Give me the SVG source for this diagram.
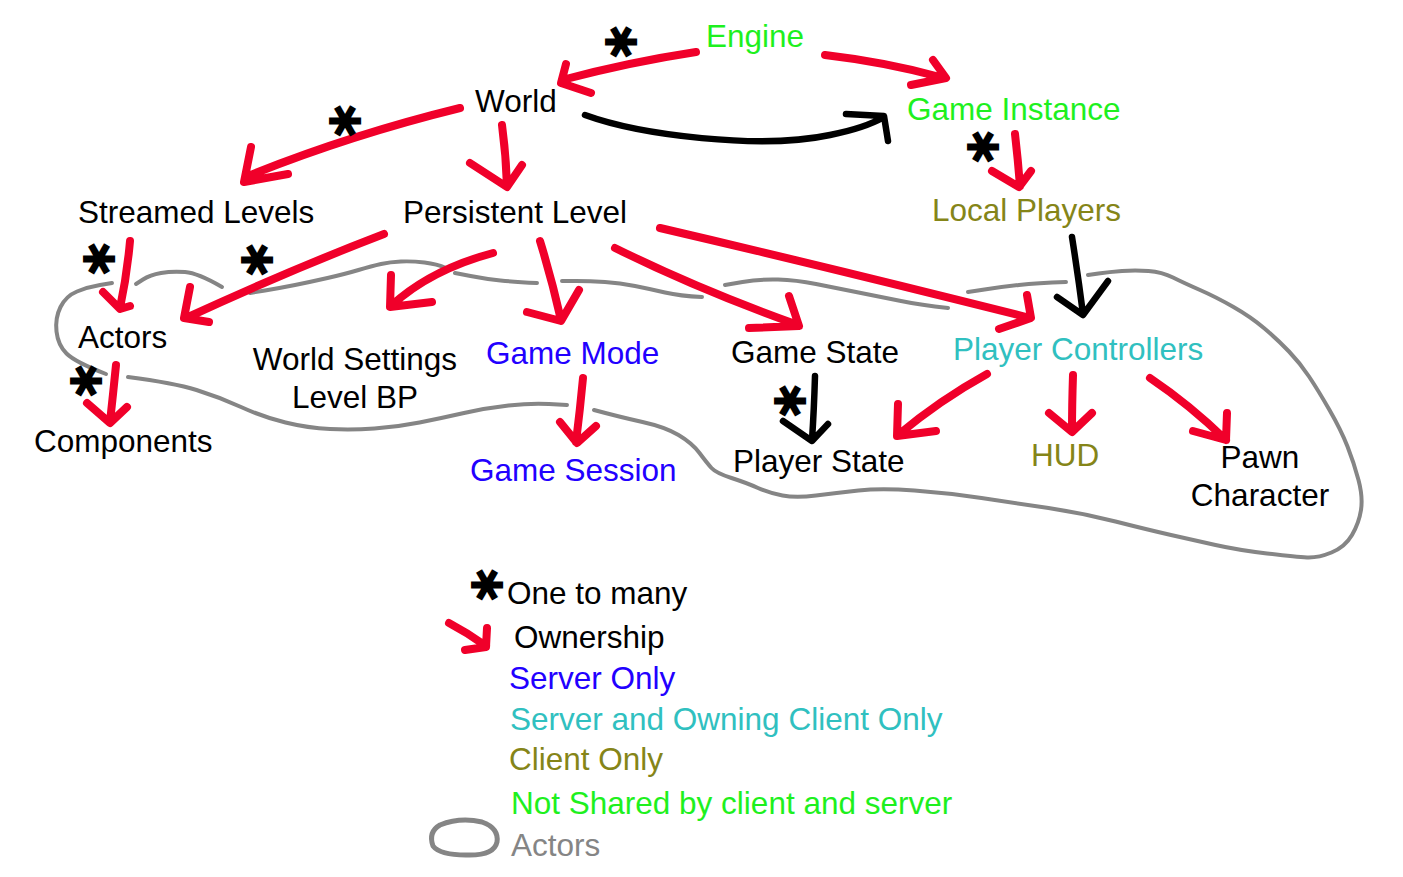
<svg xmlns="http://www.w3.org/2000/svg" width="1403" height="877" viewBox="0 0 1403 877">
<style>
text{font-family:"Liberation Sans",Arial,sans-serif;font-size:31.5px;fill:#000}
.g{fill:#1ef01e}.b{fill:#2200ff}.t{fill:#30c0c0}.o{fill:#858518}.gr{fill:#858585}
text.st{font-family:"DejaVu Sans",sans-serif;font-size:44px;text-anchor:middle;fill:#000}
.r{stroke:#f0002a;stroke-width:8;fill:none;stroke-linecap:round;stroke-linejoin:round}
.k{stroke:#000;stroke-width:6.5;fill:none;stroke-linecap:round;stroke-linejoin:round}
.ol{stroke:#858585;stroke-width:4;fill:none;stroke-linecap:round;stroke-linejoin:round}
</style>
<rect width="1403" height="877" fill="#fff"/>
<g id="actors-outline">
<path class="ol" d="M112,283 L100,285 Q88,287 77,291.5 Q66,296 60.5,307 Q55,318 56.5,331.5 Q58,345 66.5,353.5 Q75,362 106,374"/>
<path class="ol" d="M136,284 L143,279.5 Q150,275 161,273 Q172,271 185,272 Q198,273 222,287"/>
<path class="ol" d="M250,293 L265,290.5 Q280,288 295,285 Q310,282 327.5,278 Q345,274 358.5,270 Q372,266 381,264 Q390,262 401,261.5 Q412,261 424.5,262.5 Q437,264 446,268"/>
<path class="ol" d="M455,273 L470.5,276 Q486,279 500.5,280.5 Q515,282 537,283"/>
<path class="ol" d="M562,281 L576,281 Q590,281 605,282 Q620,283 635,286 Q650,289 665,292.5 Q680,296 702,297"/>
<path class="ol" d="M725,285 L742.5,282 Q760,279 778,279.5 Q796,280 816,284 Q836,288 858.5,292.5 Q881,297 901,301 Q921,305 948,308"/>
<path class="ol" d="M968,292 L984.5,289.5 Q1001,287 1019,285 Q1037,283 1066,282"/>
<path class="ol" d="M1088,275 L1098.5,273.5 Q1109,272 1122,271 Q1135,270 1148.5,271 Q1162,272 1173,277.5 Q1184,283 1200,290 Q1216,297 1233.5,307 Q1251,317 1264.5,328.5 Q1278,340 1289,351.5 Q1300,363 1309,376.5 Q1318,390 1329.5,410 Q1341,430 1347.5,446.5 Q1354,463 1358.5,480 Q1363,497 1361,510 Q1359,523 1352,535 Q1345,547 1331.5,552.5 Q1318,558 1307,557.5 Q1296,557 1267,553.5 Q1238,550 1215.5,545 Q1193,540 1171,535 Q1149,530 1115.5,521.5 Q1082,513 1048.5,508 Q1015,503 981.5,498 Q948,493 914.5,490.5 Q881,488 858.5,490.5 Q836,493 816,495.5 Q796,498 782.5,495.5 Q769,493 758,488 Q747,483 731.5,478 Q716,473 711.5,468 Q707,463 699.5,453 Q692,443 678.5,435 Q665,427 642.5,422 Q620,417 594,410"/>
<path class="ol" d="M567,405 L549,404 Q531,403 508.5,405.5 Q486,408 464,413 Q442,418 419.5,422.5 Q397,427 374.5,428.5 Q352,430 330,429 Q308,428 285.5,422.5 Q263,417 241,407 Q219,397 196.5,390 Q174,383 128,377"/>
</g>
<g id="connectors">
<path class="r" d="M696,52 Q630,62 562,80 M566,64 L561,83 L591,93"/>
<path class="r" d="M825,55 Q885,62 940,77 M933,60 L946,78 L911,85"/>
<path class="k" d="M585,115 C640,135 760,150 830,135 Q865,128 884,117 M846,114 L884,116 L888,141"/>
<path class="r" d="M460,108 Q350,135 248,176 M251,147 L244,182 L288,174"/>
<path class="r" d="M502,125 Q506,155 507,186 M470,163 L507,187 L522,165"/>
<path class="r" d="M1015,134 Q1018,160 1020,186 M992,171 L1019,187 L1031,171"/>
<path class="k" d="M1072,237 Q1078,275 1083,314 M1057,297 L1083,315 L1108,281"/>
<path class="r" d="M130,241 Q127,275 120,308 M103,292 L120,309 L130,306"/>
<path class="r" d="M384,234 Q290,270 186,318 M190,287 L184,318 L209,322"/>
<path class="r" d="M493,253 Q430,270 391,306 M391,275 L390,307 L432,302"/>
<path class="r" d="M540,241 Q552,280 561,320 M527,312 L561,321 L579,290"/>
<path class="r" d="M615,248 Q700,290 798,325 M789,296 L799,326 L749,328"/>
<path class="r" d="M660,228 Q840,270 1030,318 M1027,295 L1031,318 L999,329"/>
<path class="r" d="M583,378 Q580,410 576,442 M560,422 L577,443 L596,426"/>
<path class="k" d="M815,376 Q814,410 812,440 M783,421 L812,441 L828,424"/>
<path class="r" d="M987,374 Q940,400 898,435 M898,404 L897,436 L936,431"/>
<path class="r" d="M1073,375 Q1072,405 1072,431 M1049,413 L1072,432 L1092,413"/>
<path class="r" d="M1150,378 Q1190,405 1226,440 M1227,413 L1226,440 L1193,431"/>
<path class="r" d="M116,365 Q113,395 110,422 M87,403 L110,423 L127,407"/>
</g>
<g id="stars">
<text class="st" transform="translate(620,42) rotate(90)" y="15.5">✱</text>
<text class="st" transform="translate(344,121) rotate(90)" y="15.5">✱</text>
<text class="st" transform="translate(98,259) rotate(90)" y="15.5">✱</text>
<text class="st" transform="translate(256,260) rotate(90)" y="15.5">✱</text>
<text class="st" transform="translate(85,381) rotate(90)" y="15.5">✱</text>
<text class="st" transform="translate(982,147) rotate(90)" y="15.5">✱</text>
<text class="st" transform="translate(789,401) rotate(90)" y="15.5">✱</text>
</g>
<g id="engine"><text class="g" x="706" y="47">Engine</text></g>
<g id="world"><text x="475" y="112">World</text></g>
<g id="game-instance"><text class="g" x="907" y="120">Game Instance</text></g>
<g id="streamed-levels"><text x="78" y="223">Streamed Levels</text></g>
<g id="persistent-level"><text x="403" y="223">Persistent Level</text></g>
<g id="local-players"><text class="o" x="932" y="221">Local Players</text></g>
<g id="actors"><text x="78" y="348">Actors</text></g>
<g id="world-settings"><text x="355" y="370" text-anchor="middle">World Settings</text><text x="355" y="408" text-anchor="middle">Level BP</text></g>
<g id="game-mode"><text class="b" x="486" y="364">Game Mode</text></g>
<g id="game-state"><text x="731" y="363">Game State</text></g>
<g id="player-controllers"><text class="t" x="953" y="360">Player Controllers</text></g>
<g id="components"><text x="34" y="452">Components</text></g>
<g id="game-session"><text class="b" x="470" y="481">Game Session</text></g>
<g id="player-state"><text x="733" y="472">Player State</text></g>
<g id="hud"><text class="o" x="1031" y="466">HUD</text></g>
<g id="pawn"><text x="1260" y="468" text-anchor="middle">Pawn</text><text x="1260" y="506" text-anchor="middle">Character</text></g>
<g id="legend">
<text class="st" transform="translate(486,585) rotate(90)" y="15.5">✱</text>
<text x="507" y="604">One to many</text>
<path class="r" d="M449,623 Q468,633 486,646 M487,628 L486,647 L465,650"/>
<text x="514" y="648">Ownership</text>
<text class="b" x="509" y="689">Server Only</text>
<text class="t" x="510" y="730">Server and Owning Client Only</text>
<text class="o" x="509" y="770">Client Only</text>
<text class="g" x="511" y="814">Not Shared by client and server</text>
<path class="ol" style="stroke-width:5" d="M440,825 Q460,817 482,822 Q499,828 497,842 Q494,856 466,855 Q440,855 433,846 Q428,832 440,825 Z"/>
<text class="gr" x="511" y="856">Actors</text>
</g>
</svg>
